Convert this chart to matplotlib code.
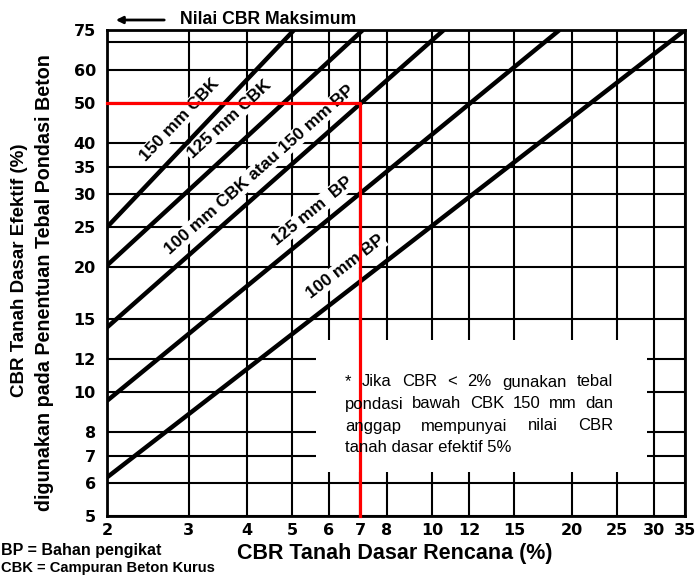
import numpy as np
import matplotlib
matplotlib.use("Agg")
import matplotlib.pyplot as plt
from matplotlib.ticker import FixedLocator, NullLocator, FixedFormatter
from matplotlib.patches import Rectangle, FancyArrowPatch

plt.rcParams['font.family'] = ['Liberation Sans', 'DejaVu Sans']

# garis tebal pondasi (ujung kiri di CBR 2, ujung atas di CBR efektif 75)
line_labels = ["150 mm CBK", "125 mm CBK", "100 mm CBK atau 150 mm BP",
               "125 mm  BP", "100 mm BP"]
x_start = [2, 2, 2, 2, 2]
y_start = [25, 20.2, 14.3, 9.5, 6.2]
x_end = [5.05, 7.1, 10.6, 18.8, 35]
y_end = [75, 75, 75, 75, 75]
# posisi teks label tiap garis
lab_x = [2.87, 3.66, 4.26, 5.52, 6.50]
lab_y = [45.5, 45.6, 34.4, 27.3, 20.0]

# contoh pembacaan: CBR rencana 7% -> CBR efektif 50%
red_x = [2, 7, 7]
red_y = [50, 50, 5]

xticks = [2, 3, 4, 5, 6, 7, 8, 10, 12, 15, 20, 25, 30, 35]
yticks = [5, 6, 7, 8, 10, 12, 15, 20, 25, 30, 35, 40, 50, 60, 75]
ygrid_extra = [70]

note_lines = ["* Jika CBR < 2% gunakan tebal",
              "pondasi bawah CBK 150 mm dan",
              "anggap mempunyai nilai CBR",
              "tanah dasar efektif 5%"]

W, H = 700, 578
fig = plt.figure(figsize=(W / 100, H / 100), dpi=100)
ax = fig.add_axes([107 / W, 1 - 516 / H, (685 - 107) / W, (516 - 30) / H])
ax.set_xscale('log')
ax.set_yscale('log')
ax.set_xlim(2, 35)
ax.set_ylim(5, 75)

ax.xaxis.set_major_locator(FixedLocator(xticks))
ax.xaxis.set_major_formatter(FixedFormatter([str(v) for v in xticks]))
ax.xaxis.set_minor_locator(NullLocator())
ax.yaxis.set_major_locator(FixedLocator(yticks))
ax.yaxis.set_major_formatter(FixedFormatter([str(v) for v in yticks]))
ax.yaxis.set_minor_locator(FixedLocator(ygrid_extra))
ax.tick_params(which='both', length=0)
ax.tick_params(axis='x', pad=5)
ax.tick_params(axis='y', pad=8)
for lab in ax.get_xticklabels() + ax.get_yticklabels():
    lab.set_fontfamily('DejaVu Sans')
    lab.set_fontsize(11.5)
    lab.set_fontweight('bold')
ax.grid(which='both', color='black', lw=1.5, zorder=1)
ax.set_axisbelow(True)
for s in ax.spines.values():
    s.set_linewidth(2)

# kotak putih untuk catatan
ax.add_patch(Rectangle((5.62, 6.4), 29.0 - 5.62, 13.3 - 6.4,
                       facecolor='white', edgecolor='none', zorder=2))

for i in range(len(line_labels)):
    ax.plot([x_start[i], x_end[i]], [y_start[i], y_end[i]],
            color='black', lw=3.2, solid_capstyle='butt', zorder=3)
    p0 = ax.transData.transform((x_start[i], y_start[i]))
    p1 = ax.transData.transform((x_end[i], y_end[i]))
    ang = np.degrees(np.arctan2(p1[1] - p0[1], p1[0] - p0[0]))
    ax.text(lab_x[i], lab_y[i], line_labels[i], rotation=ang,
            rotation_mode='anchor', ha='center', va='center',
            fontsize=12.5, fontweight='bold', zorder=2.5,
            bbox=dict(facecolor='white', edgecolor='none', pad=1))

ax.plot(red_x, red_y, color='red', lw=2.3, zorder=6, clip_on=False)

# catatan rata kiri-kanan
renderer = fig.canvas.get_renderer()
x0, x1 = 345, 613
note_y = [382, 404, 426, 448]
for i, line in enumerate(note_lines):
    yf = 1 - note_y[i] / H
    if i == len(note_lines) - 1:
        fig.text(x0 / W, yf, line, fontsize=12, va='center', zorder=5)
        continue
    words = line.split()
    ts = [fig.text(0, yf, w, fontsize=12, va='center', zorder=5) for w in words]
    widths = [t.get_window_extent(renderer).width for t in ts]
    gap = (x1 - x0 - sum(widths)) / (len(words) - 1)
    pos = x0
    for t, w in zip(ts, widths):
        t.set_x(pos / W)
        pos += w + gap

# judul atas dengan panah
fig.patches.append(FancyArrowPatch(
    (167 / W, 1 - 20 / H), (113 / W, 1 - 20 / H), transform=fig.transFigure,
    arrowstyle='-|>', mutation_scale=10, lw=2, color='black'))
fig.text(180 / W, 1 - 19 / H, "Nilai CBR Maksimum", fontsize=12.7,
         fontweight='bold', va='center')

fig.text(20 / W, 1 - 270 / H, "CBR Tanah Dasar Efektif (%)", rotation=90,
         fontsize=13.5, fontweight='bold', ha='center', va='center')
fig.text(45 / W, 1 - 283 / H, "digunakan pada Penentuan Tebal Pondasi Beton",
         rotation=90, fontsize=14.2, fontweight='bold', ha='center', va='center')
fig.text(395 / W, 1 - 553 / H, "CBR Tanah Dasar Rencana (%)", fontsize=15.5,
         fontweight='bold', ha='center', va='center')

fig.text(1 / W, 1 - 551 / H, "BP = Bahan pengikat", fontsize=11.5,
         fontweight='bold', va='center')
fig.text(1 / W, 1 - 568 / H, "CBK = Campuran Beton Kurus", fontsize=10.6,
         fontweight='bold', va='center')

fig.savefig("out.png", dpi=100)
